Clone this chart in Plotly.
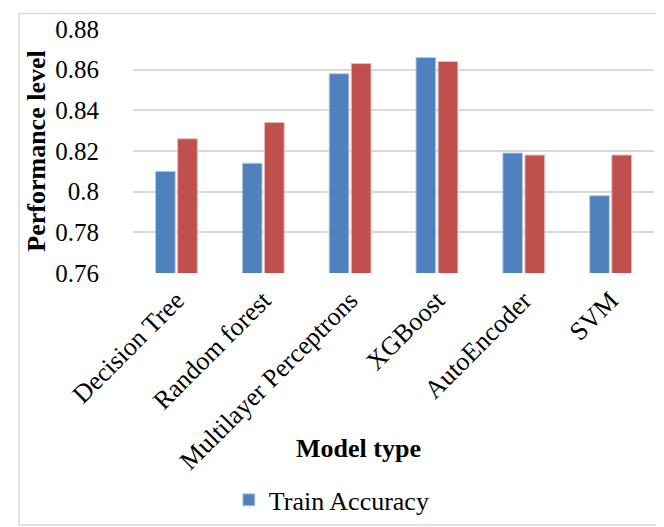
import plotly.graph_objects as go

models = ["Decision Tree", "Random forest", "Multilayer Perceptrons", "XGBoost", "AutoEncoder", "SVM"]
train_acc = [0.810, 0.814, 0.858, 0.866, 0.819, 0.798]
test_acc = [0.826, 0.834, 0.863, 0.864, 0.818, 0.818]
y_ticks = [0.76, 0.78, 0.80, 0.82, 0.84, 0.86, 0.88]
y_tick_text = ["0.76", "0.78", "0.8", "0.82", "0.84", "0.86", "0.88"]

FONT = "Liberation Serif, Times New Roman, serif"

fig = go.Figure()
fig.add_trace(go.Bar(x=models, y=train_acc, name="Train Accuracy",
                     marker=dict(color="#4F81BD", line=dict(color="#B8CCE4", width=1))))
fig.add_trace(go.Bar(x=models, y=test_acc, name="Test Accuracy", showlegend=False,
                     marker=dict(color="#C0504D", line=dict(color="#E6B9B8", width=1))))

fig.update_layout(
    width=664, height=527,
    margin=dict(l=125, r=18, t=21, b=258),
    paper_bgcolor="white", plot_bgcolor="white",
    font=dict(family=FONT, color="black", size=25),
    barmode="group", bargap=0.49, bargroupgap=0.11,
    showlegend=True,
    legend=dict(x=0.184, y=-0.93, xanchor="left", yanchor="middle",
                orientation="h", font=dict(size=26, family=FONT),
                itemwidth=30, bgcolor="rgba(0,0,0,0)"),
    xaxis=dict(tickangle=-45, tickfont=dict(size=26, family=FONT), ticklabelstandoff=6,
               showgrid=False, showline=False, ticks="", automargin=False),
    yaxis=dict(range=[0.76, 0.88], tickvals=y_ticks, ticktext=y_tick_text,
               tickfont=dict(size=25, family=FONT), ticklabelstandoff=33,
               showgrid=True, gridcolor="#D9D9D9", gridwidth=1.5,
               zeroline=False, showline=False, automargin=False,
               title=dict(text="<b>Performance level</b>", font=dict(size=26, family=FONT), standoff=2)),
    annotations=[dict(text="<b>Model type</b>", xref="paper", yref="paper",
                      x=0.432, y=-0.719, xanchor="center", yanchor="middle",
                      showarrow=False, font=dict(size=26, family=FONT))],
    shapes=[dict(type="rect", xref="paper", yref="paper",
                 x0=-0.219, x1=1.033, y0=-1.033, y1=1.064,
                 line=dict(color="#D9D9D9", width=1.5), fillcolor="rgba(0,0,0,0)", layer="below")],
)

fig.write_html("out.html")
